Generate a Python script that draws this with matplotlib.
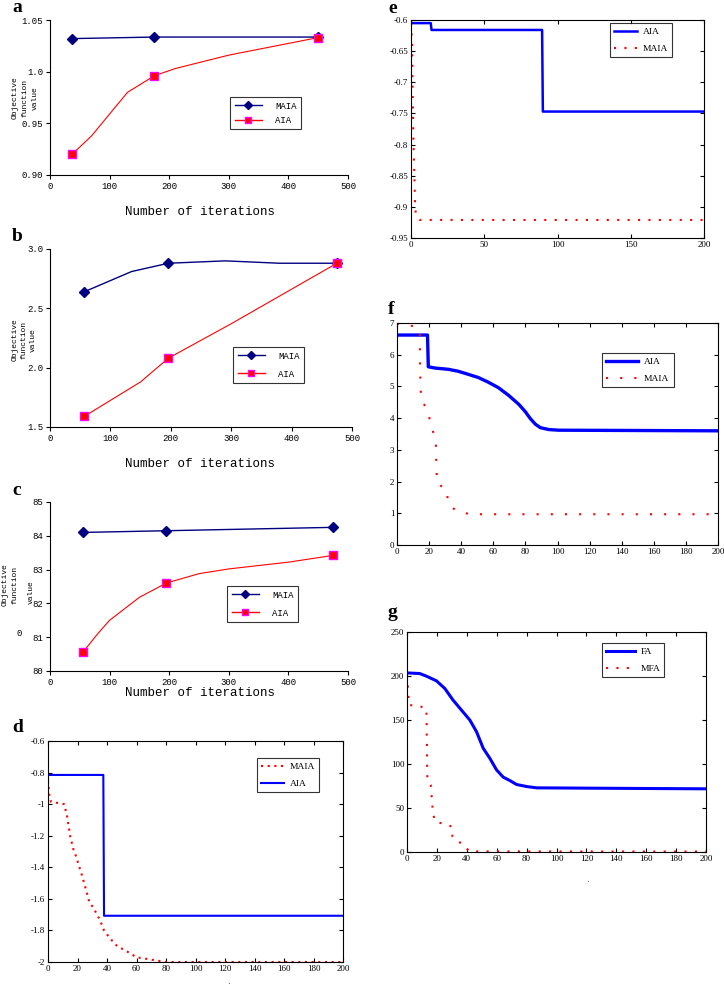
import matplotlib
matplotlib.use("Agg")
import matplotlib.pyplot as plt

plt.rcParams['axes.unicode_minus'] = False

W, H = 724, 985

##### DATA #####

# panel a : objective value vs number of iterations
a_x = [37, 175, 450]
a_maia = [1.032, 1.0335, 1.0335]
a_aia = [0.920, 0.996, 1.033]
a_aia_curve_x = [37, 70, 100, 130, 175, 210, 300, 450]   # points
a_aia_curve_y = [0.920, 0.938, 0.959, 0.980, 0.996, 1.003, 1.016, 1.033]

# panel b
b_x = [57, 196, 475]
b_maia = [2.64, 2.88, 2.88]
b_aia = [1.59, 2.08, 2.88]
b_maia_curve_x = [57, 135, 196, 290, 380, 475]
b_maia_curve_y = [2.64, 2.81, 2.88, 2.90, 2.88, 2.88]
b_aia_curve_x = [57, 150, 196, 300, 475]
b_aia_curve_y = [1.59, 1.88, 2.08, 2.37, 2.88]

# panel c
c_x = [55, 195, 475]
c_maia = [84.10, 84.15, 84.25]
c_aia = [80.55, 82.60, 83.42]
c_aia_curve_x = [55, 80, 100, 150, 195, 250, 300, 400, 475]
c_aia_curve_y = [80.55, 81.1, 81.5, 82.18, 82.6, 82.88, 83.02, 83.22, 83.42]

abc_xticks = [0, 100, 200, 300, 400, 500]
a_yticks = [0.90, 0.95, 1.0, 1.05]
a_ylabels = ['0.90', '0.95', '1.0', '1.05']
b_yticks = [1.5, 2.0, 2.5, 3.0]
b_ylabels = ['1.5', '2.0', '2.5', '3.0']
c_yticks = [80, 81, 82, 83, 84, 85]
c_ylabels = ['80', '81', '82', '83', '84', '85']

# panel d : convergence curves
d_aia_x = [0, 37.5, 38, 200]
d_aia_y = [-0.815, -0.815, -1.707, -1.707]
d_maia_x = [0, 0.5, 1, 2, 5, 11, 13, 15, 17, 19, 21, 23, 26, 28, 31, 35, 38, 42, 47, 53, 60, 70, 80, 200]
d_maia_y = [-0.85, -0.90, -0.95, -0.985, -0.99, -1.0, -1.08, -1.2, -1.28, -1.33, -1.39, -1.45, -1.55,
            -1.62, -1.66, -1.73, -1.80, -1.85, -1.90, -1.93, -1.97, -1.985, -2.0, -2.0]

# panel e
e_aia_x = [0, 13.5, 14, 89.5, 90, 200]
e_aia_y = [-0.605, -0.605, -0.616, -0.616, -0.747, -0.747]
e_maia_x = [0, 0.8, 1.1, 1.4, 1.8, 2.4, 2.8, 3.5, 6, 200]
e_maia_y = [-0.605, -0.64, -0.713, -0.761, -0.809, -0.857, -0.90, -0.915, -0.921, -0.921]

# panel f
f_aia_x = [0, 19, 19.5, 23.6, 32, 38, 44.5, 50.7, 57, 63.2, 69.5, 75.8, 80, 83, 86.2, 89.3, 94.6, 100.8, 200]
f_aia_y = [6.62, 6.62, 5.62, 5.58, 5.54, 5.48, 5.38, 5.28, 5.13, 4.96, 4.72, 4.44, 4.2, 3.99, 3.81,
           3.70, 3.64, 3.62, 3.60]
f_maia_x = [0, 8, 14.2, 14.4, 15, 18.4, 20.8, 24.2, 24.6, 25, 30.9, 31.9, 36.7, 45.5, 200]
f_maia_y = [6.98, 6.94, 6.79, 5.5, 4.6, 4.3, 3.9, 3.23, 2.4, 1.94, 1.75, 1.31, 1.08, 0.97, 0.97]

# panel g
g_fa_x = [0, 8.5, 13, 19.7, 25.3, 30.8, 36.4, 42, 46.5, 51, 55.4, 59.9, 64.4, 68.8, 73.3, 80, 86.7, 124.7, 200]
g_fa_y = [203.5, 202.8, 199.8, 194.5, 185.8, 172.6, 161.3, 150, 136.7, 117.8, 106.5, 93.3, 85, 81.2,
          76.7, 74.4, 72.9, 72.5, 71.8]
g_mfa_x = [0, 0.7, 1.3, 8, 13, 13.4, 13.6, 15.9, 17.4, 19.2, 25.3, 29.7, 30.4, 34.4, 38.4, 41.6, 200]
g_mfa_y = [201, 185, 167, 166, 163, 106.5, 84, 76, 43, 34, 32, 29, 17.7, 12, 7.2, 0.7, 0.5]

##### FIGURE #####

fig = plt.figure(figsize=(W / 100, H / 100), dpi=100)
MONO = 'Liberation Mono'
SERIF = 'Liberation Serif'


def px_axes(l, t, r, b):
    return fig.add_axes([l / W, 1 - b / H, (r - l) / W, (b - t) / H])


def ftext(x, y, s, **kw):
    fig.text(x / W, 1 - y / H, s, **kw)


def excel_panel(ax, x, maia, aia, maia_curve, aia_curve, yticks, ylabels, ylim, leg_xy, lsp):
    ax.plot(maia_curve[0], maia_curve[1], color='#000080', lw=1.0)
    ax.plot(aia_curve[0], aia_curve[1], color='red', lw=0.8)
    ax.plot([], [], color='#000080', lw=1.0, marker='D', ms=4, label='MAIA')
    ax.plot(x, maia, ls='none', marker='D', ms=4.8, color='#000080')
    ax.plot([], [], color='red', lw=1.0, marker='s', ms=5, mfc='red', mec='#ff00ff', label='AIA')
    ax.plot(x, aia, ls='none', marker='s', ms=5.8, mfc='red', mec='#ff00ff', mew=1.0)
    ax.set_xlim(0, 500)
    ax.set_ylim(*ylim)
    ax.set_xticks(abc_xticks)
    ax.set_xticklabels([str(v) for v in abc_xticks], fontfamily=MONO, fontsize=6.5)
    ax.set_yticks(yticks)
    ax.set_yticklabels(ylabels, fontfamily=MONO, fontsize=6.5)
    ax.spines['top'].set_visible(False)
    ax.spines['right'].set_visible(False)
    ax.tick_params(direction='out', length=3, width=0.8, pad=2)
    leg = ax.legend(loc='upper left', bbox_to_anchor=leg_xy, borderaxespad=0, fancybox=False,
                    edgecolor='black', prop={'family': MONO, 'size': 6.5}, handlelength=3.0,
                    labelspacing=lsp, borderpad=0.5, handletextpad=1.5)
    leg.get_frame().set_linewidth(0.8)


def matlab_panel(ax, xlim, ylim, xticks, yticks):
    ax.set_xlim(*xlim)
    ax.set_ylim(*ylim)
    ax.set_xticks(xticks)
    ax.set_yticks(yticks)
    ax.set_xticklabels(['%g' % v for v in xticks], fontfamily=SERIF, fontsize=6.5)
    ax.set_yticklabels(['%g' % v for v in yticks], fontfamily=SERIF, fontsize=6.5)
    ax.tick_params(direction='in', length=3, width=0.8, top=True, right=True, pad=2)
    for s in ax.spines.values():
        s.set_linewidth(0.8)


def matlab_legend(ax, xy, hl):
    leg = ax.legend(loc='upper left', bbox_to_anchor=xy, borderaxespad=0, fancybox=False,
                    edgecolor='black', prop={'family': SERIF, 'size': 6.8}, handlelength=hl,
                    labelspacing=0.9, borderpad=0.45, handletextpad=0.6)
    leg.get_frame().set_linewidth(0.8)


# a
ax = px_axes(50, 20, 348, 175)
excel_panel(ax, a_x, a_maia, a_aia, (a_x, a_maia), (a_aia_curve_x, a_aia_curve_y),
            a_yticks, a_ylabels, (0.90, 1.05), (0.604, 0.503), 0.6)
ftext(200, 212, 'Number of iterations', fontfamily=MONO, fontsize=9, ha='center', va='center')
ftext(25, 98, 'Objective\nfunction\nvalue', fontfamily=MONO, fontsize=5.8, rotation=90,
      ha='center', va='center', linespacing=1.6)

# b
ax = px_axes(50, 249, 352, 427)
excel_panel(ax, b_x, b_maia, b_aia, (b_maia_curve_x, b_maia_curve_y), (b_aia_curve_x, b_aia_curve_y),
            b_yticks, b_ylabels, (1.5, 3.0), (0.606, 0.449), 1.0)
ftext(200, 464, 'Number of iterations', fontfamily=MONO, fontsize=9, ha='center', va='center')
ftext(24, 340, 'Objective\nfunction\nvalue', fontfamily=MONO, fontsize=5.8, rotation=90,
      ha='center', va='center', linespacing=1.4)

# c
ax = px_axes(50, 502, 348, 671)
excel_panel(ax, c_x, c_maia, c_aia, (c_x, c_maia), (c_aia_curve_x, c_aia_curve_y),
            c_yticks, c_ylabels, (80, 85), (0.594, 0.503), 1.0)
ftext(200, 693, 'Number of iterations', fontfamily=MONO, fontsize=9, ha='center', va='center')
ftext(10, 585, 'Objective\nfunction', fontfamily=MONO, fontsize=5.8, rotation=90,
      ha='center', va='center', linespacing=1.6)
ftext(31, 592, 'value', fontfamily=MONO, fontsize=5.8, rotation=90, ha='center', va='center')
ftext(19, 633, '0', fontfamily=MONO, fontsize=6.5, ha='center', va='center')

# d
ax = px_axes(48, 741, 343, 962)
ax.plot(d_maia_x, d_maia_y, color='red', lw=1.5, ls=(0, (1, 2.2)), label='MAIA')
ax.plot(d_aia_x, d_aia_y, color='blue', lw=1.5, label='AIA')
matlab_panel(ax, (0, 200), (-2, -0.6), list(range(0, 201, 20)),
             [-2, -1.8, -1.6, -1.4, -1.2, -1, -0.8, -0.6])
matlab_legend(ax, (0.708, 0.923), 2.4)
ftext(228, 982, '.', fontsize=6, ha='center', va='center')

# e
ax = px_axes(411, 20, 704, 238)
ax.plot(e_aia_x, e_aia_y, color='blue', lw=1.8, label='AIA')
ax.plot(e_maia_x, e_maia_y, color='red', lw=1.5, ls=(0, (1, 4.0)), label='MAIA')
matlab_panel(ax, (0, 200), (-0.95, -0.6), [0, 50, 100, 150, 200],
             [-0.95, -0.9, -0.85, -0.8, -0.75, -0.7, -0.65, -0.6])
matlab_legend(ax, (0.679, 0.986), 2.4)

# f
ax = px_axes(397, 323, 718, 545)
ax.plot(f_aia_x, f_aia_y, color='blue', lw=2.4, label='AIA')
ax.plot(f_maia_x, f_maia_y, color='red', lw=1.5, ls=(0, (1, 5.8)), label='MAIA')
matlab_panel(ax, (0, 200), (0, 7), list(range(0, 201, 20)), list(range(0, 8)))
matlab_legend(ax, (0.639, 0.865), 3.4)

# g
ax = px_axes(407, 632, 706, 852)
ax.plot(g_fa_x, g_fa_y, color='blue', lw=2.2, label='FA')
ax.plot(g_mfa_x, g_mfa_y, color='red', lw=1.5, ls=(0, (1, 4.0)), label='MFA')
matlab_panel(ax, (0, 200), (0, 250), list(range(0, 201, 20)), [0, 50, 100, 150, 200, 250])
matlab_legend(ax, (0.652, 0.95), 3.0)
ftext(587, 879, '.', fontsize=6, ha='center', va='center')

# panel letters
for s, x, y in [('a', 12, 12), ('b', 12, 241), ('c', 12, 495), ('d', 12, 732),
                ('e', 388, 13), ('f', 388, 314), ('g', 388, 617)]:
    ftext(x, y, s, fontfamily=SERIF, fontsize=14, fontweight='bold', ha='left', va='baseline')

fig.savefig('out.png', dpi=100)
